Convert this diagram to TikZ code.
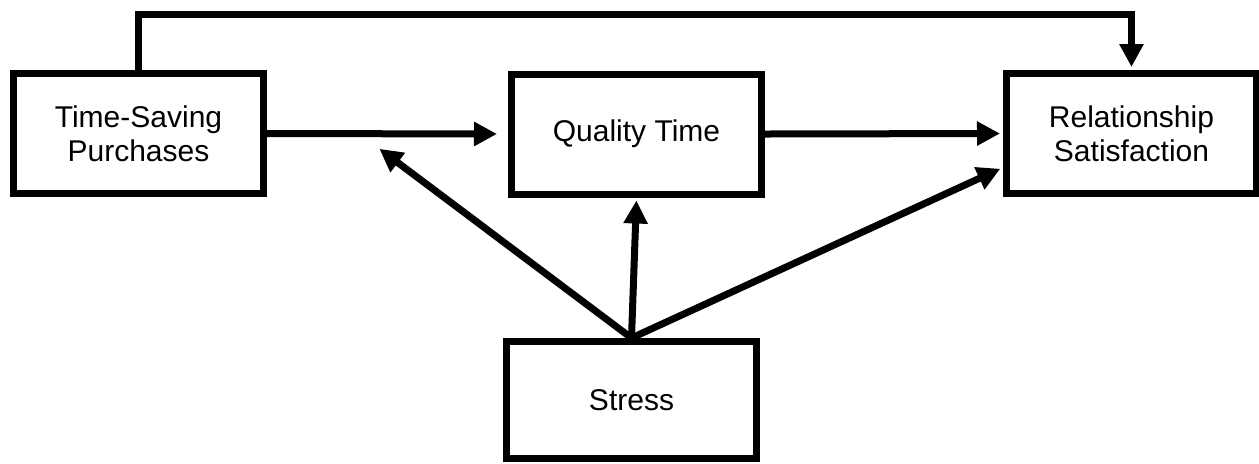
\documentclass[tikz,border=0pt]{standalone}
\usepackage{fontspec}
\setmainfont{Liberation Sans}
\usetikzlibrary{arrows.meta}

\begin{document}
\begin{tikzpicture}[x=0.5pt,y=-0.5pt,line width=3.5pt]
  \useasboundingbox (0,0) rectangle (1259,463);
  \begin{scope}[every node/.style={rectangle,draw=black,line width=3.5pt,minimum width=125pt,minimum height=60pt,align=center,font=\fontsize{15}{17}\selectfont}]
    \node (tsp) at (138.5,133.5) {Time-Saving\\Purchases};
    \node (qt) at (636.5,134) {Quality Time};
    \node (rs) at (1131.5,133.5) {Relationship\\Satisfaction};
    \node[minimum height=58.5pt] (st) at (631.5,400) {Stress};
  \end{scope}
  \coordinate (top) at (0,14);
  \coordinate (mid) at (377,147);
  \begin{scope}[every edge/.style={draw=black,line width=3.5pt,-{Triangle[length=11.5pt,width=11.5pt]},shorten >=1.5pt}]
    \draw (tsp.east) edge[shorten >=5.5pt] (qt.west);
    \draw (qt.east) edge (rs.west);
    \draw (tsp.north) edge[to path={-- (tsp.north |- top) -| (\tikztotarget)}] (rs.north);
    \draw (st.north) edge (mid);
    \draw (st.north) edge (qt.south);
    \draw (st.north) edge ([yshift=-17pt]rs.west);
  \end{scope}
\end{tikzpicture}
\end{document}
